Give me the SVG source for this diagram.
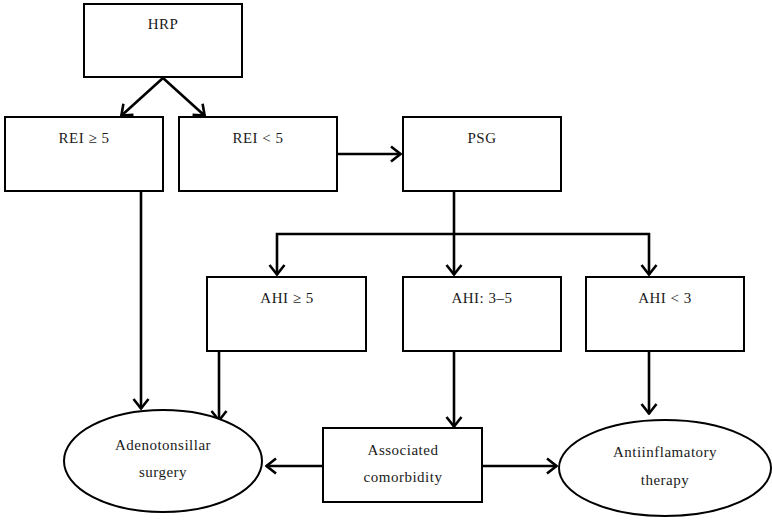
<svg xmlns="http://www.w3.org/2000/svg" width="772" height="522" viewBox="0 0 772 522">
<style>
.box{fill:#fff;stroke:#000;stroke-width:2}
.ell{fill:#fff;stroke:#000;stroke-width:2}
.lbl{font-family:"Liberation Serif","Times New Roman",serif;font-size:15px;letter-spacing:0.5px;fill:#1a1a1a;text-anchor:middle}
.con{fill:none;stroke:#000;stroke-width:2.6;marker-end:url(#ah)}
</style>
<defs>
<marker id="ah" viewBox="0 0 12 18" refX="11" refY="9" markerWidth="12" markerHeight="18" markerUnits="userSpaceOnUse" orient="auto">
<path d="M1,1.5 L10.5,9 L1,16.5" fill="none" stroke="#000" stroke-width="2.6"/>
</marker>
</defs>
<rect width="772" height="522" fill="#fff"/>
<g id="connectors">
<path class="con" d="M163,78 L121,116"/>
<path class="con" d="M163,78 L205,116"/>
<path class="con" d="M337,154 L401,154"/>
<path class="con" d="M141,191 L141,409"/>
<path class="con" d="M454,191 L454,275"/>
<path class="con" d="M454,234 L277,234 L277,275"/>
<path class="con" d="M454,234 L649,234 L649,275"/>
<path class="con" d="M219,351 L219,421"/>
<path class="con" d="M454,351 L454,427"/>
<path class="con" d="M649,351 L649,414"/>
<path class="con" d="M323,466 L266,466"/>
<path class="con" d="M482,466 L557,466"/>
</g>
<g id="hrp"><rect class="box" x="84" y="4" width="158" height="73"/><text class="lbl" x="163" y="29">HRP</text></g>
<g id="rei-ge5"><rect class="box" x="5" y="117" width="158" height="74"/><text class="lbl" x="84" y="143">REI ≥ 5</text></g>
<g id="rei-lt5"><rect class="box" x="179" y="117" width="158" height="74"/><text class="lbl" x="258" y="143">REI &lt; 5</text></g>
<g id="psg"><rect class="box" x="403" y="117" width="158" height="74"/><text class="lbl" x="482" y="143">PSG</text></g>
<g id="ahi-ge5"><rect class="box" x="207" y="277" width="159" height="74"/><text class="lbl" x="287" y="303">AHI ≥ 5</text></g>
<g id="ahi-3-5"><rect class="box" x="403" y="277" width="158" height="74"/><text class="lbl" x="482" y="303">AHI: 3–5</text></g>
<g id="ahi-lt3"><rect class="box" x="586" y="277" width="158" height="74"/><text class="lbl" x="665" y="303">AHI &lt; 3</text></g>
<g id="surgery"><ellipse class="ell" cx="163" cy="461" rx="99" ry="51"/><text class="lbl" x="163" y="450">Adenotonsillar</text><text class="lbl" x="163" y="477">surgery</text></g>
<g id="comorbidity"><rect class="box" x="323" y="428" width="159" height="74"/><text class="lbl" x="403" y="455">Associated</text><text class="lbl" x="403" y="482">comorbidity</text></g>
<g id="therapy"><ellipse class="ell" cx="665" cy="468" rx="106" ry="48"/><text class="lbl" x="665" y="457">Antiinflamatory</text><text class="lbl" x="665" y="485">therapy</text></g>
</svg>
